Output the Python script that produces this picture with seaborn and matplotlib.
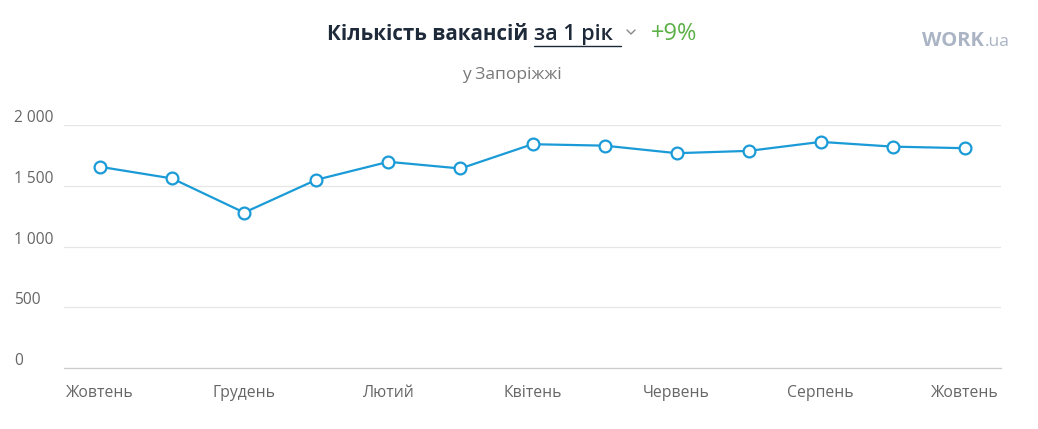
import numpy as np
import pandas as pd
import seaborn as sns
import matplotlib.pyplot as plt
import matplotlib.transforms as mtransforms
from matplotlib.lines import Line2D

# values (monthly vacancies, Oct -> Oct)
months = ['Жовтень', 'Листопад', 'Грудень', 'Січень', 'Лютий', 'Березень', 'Квітень',
          'Травень', 'Червень', 'Липень', 'Серпень', 'Вересень', 'Жовтень']
vacancies = [1656, 1560, 1279, 1549, 1697, 1642, 1842, 1830, 1768, 1787, 1861, 1822, 1809]
y_ticks = [0, 500, 1000, 1500, 2000]
y_labels = ['0', '500', '1 000', '1 500', '2 000']

df = pd.DataFrame({'idx': np.arange(len(months)), 'month': months, 'count': vacancies})

sns.set_theme(style='white')
plt.rcParams['font.family'] = ['Open Sans', 'DejaVu Sans']

W, H = 1038, 429
fig = plt.figure(figsize=(W / 100, H / 100), dpi=100)

def fx(px):
    return px / W

def fy(py):
    return 1 - py / H

ax = fig.add_axes([fx(64), fy(368), fx(1001) - fx(64), fy(125) - fy(368)])

line_color = '#1a9bd7'
sns.lineplot(data=df, x='idx', y='count', ax=ax, color=line_color, linewidth=1.6,
             marker='o', markersize=8.5, markerfacecolor='white',
             markeredgecolor=line_color, markeredgewidth=1.6, zorder=3)

ax.set_xlim(-0.5, len(months) - 0.5)
ax.set_ylim(0, 2000)
ax.set_xlabel('')
ax.set_ylabel('')

ax.set_xticks(df['idx'][::2])
ax.set_xticklabels(df['month'][::2], fontsize=11.3, color='#666666')
ax.tick_params(axis='x', length=6, width=0.8, color='#cccccc', pad=6, direction='out')

ax.set_yticks(y_ticks)
ax.set_yticklabels(y_labels, fontsize=11.2, color='#666666', ha='left')
ax.tick_params(axis='y', length=0, pad=36)
offset = mtransforms.ScaledTranslation(0, 0.09, fig.dpi_scale_trans)
for lab in ax.get_yticklabels():
    lab.set_transform(lab.get_transform() + offset)

ax.grid(axis='y', color='#e6e6e6', linewidth=0.9)
ax.grid(axis='x', visible=False)
for side in ['top', 'left', 'right']:
    ax.spines[side].set_visible(False)
ax.spines['bottom'].set_color('#cccccc')
ax.spines['bottom'].set_linewidth(0.9)

# title row
fig.text(fx(327), fy(40), 'Кількість вакансій', fontsize=14.8, fontweight='bold',
         color='#1e2a3a', ha='left', va='baseline')
fig.text(fx(534), fy(40), 'за 1 рік', fontsize=15.5, fontweight='semibold',
         color='#1e2a3a', ha='left', va='baseline')
fig.add_artist(Line2D([fx(534), fx(621)], [fy(46), fy(46)], color='#1e2a3a',
                      linewidth=1.0, transform=fig.transFigure))
fig.add_artist(Line2D([fx(627), fx(631), fx(635)], [fy(30), fy(34), fy(30)],
                      color='#888888', linewidth=1.0, transform=fig.transFigure))
fig.text(fx(651), fy(40), '+9%', fontsize=17, color='#5cb047', ha='left', va='baseline')

fig.text(fx(512), fy(79), 'у Запоріжжі', fontsize=12.5, color='#777777',
         ha='center', va='baseline')

# logo
fig.text(fx(922), fy(46), 'WORK', fontsize=14.5, fontweight='bold', color='#aab4c4',
         ha='left', va='baseline')
fig.text(fx(985), fy(46), '.ua', fontsize=12.5, color='#aab4c4', ha='left', va='baseline')

fig.savefig('out.png', dpi=100, facecolor='white')
